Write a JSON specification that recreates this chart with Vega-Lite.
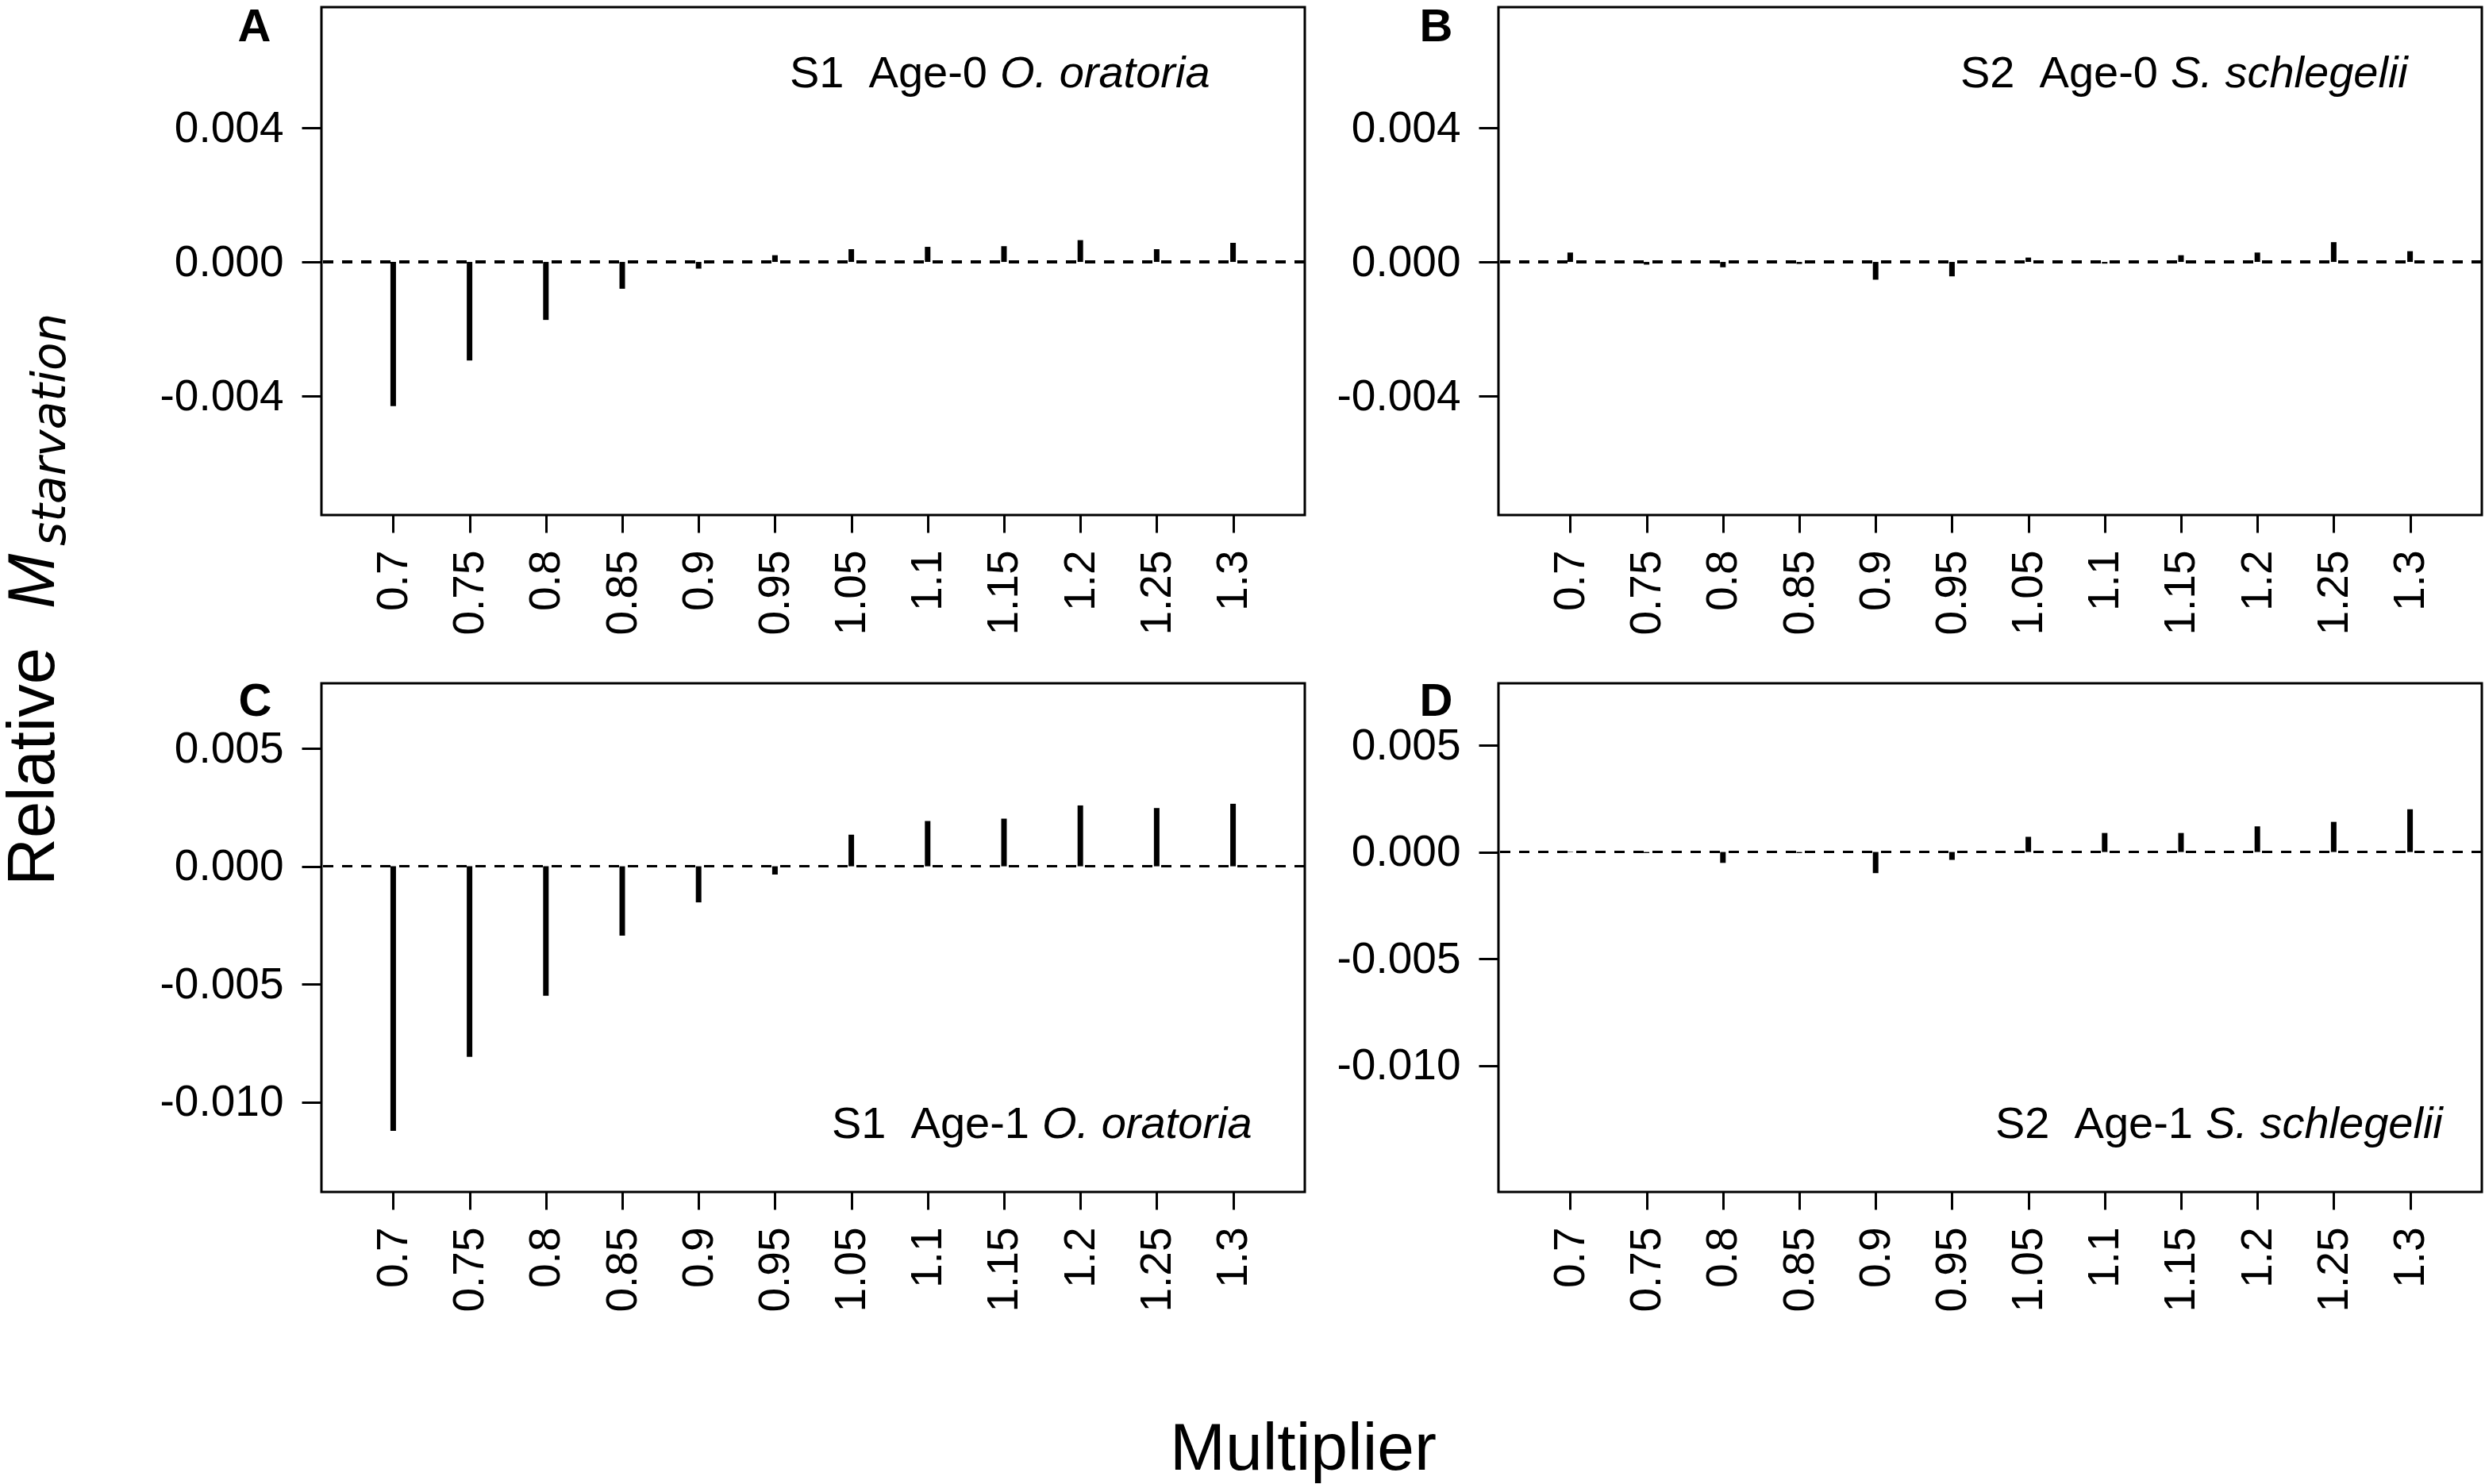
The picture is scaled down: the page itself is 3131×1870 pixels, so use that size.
{
  "$schema": "https://vega.github.io/schema/vega-lite/v6.json",
  "padding": {"left": 0, "top": 4, "right": 0, "bottom": 0},
  "background": "white",
  "datasets": {
    "A": [
      {"m": "0.7", "v": -0.0043}, {"m": "0.75", "v": -0.00294}, {"m": "0.8", "v": -0.00173},
      {"m": "0.85", "v": -0.0008}, {"m": "0.9", "v": -0.0002}, {"m": "0.95", "v": 0.0002},
      {"m": "1.05", "v": 0.00038}, {"m": "1.1", "v": 0.00045}, {"m": "1.15", "v": 0.00047},
      {"m": "1.2", "v": 0.00065}, {"m": "1.25", "v": 0.00038}, {"m": "1.3", "v": 0.00057}
    ],
    "B": [
      {"m": "0.7", "v": 0.00028}, {"m": "0.75", "v": -0.00008}, {"m": "0.8", "v": -0.00016},
      {"m": "0.85", "v": -0.00006}, {"m": "0.9", "v": -0.00053}, {"m": "0.95", "v": -0.00043},
      {"m": "1.05", "v": 0.00013}, {"m": "1.1", "v": -0.00005}, {"m": "1.15", "v": 0.0002},
      {"m": "1.2", "v": 0.00028}, {"m": "1.25", "v": 0.00059}, {"m": "1.3", "v": 0.00032}
    ],
    "C": [
      {"m": "0.7", "v": -0.01122}, {"m": "0.75", "v": -0.00808}, {"m": "0.8", "v": -0.00549},
      {"m": "0.85", "v": -0.00294}, {"m": "0.9", "v": -0.00153}, {"m": "0.95", "v": -0.00035},
      {"m": "1.05", "v": 0.00134}, {"m": "1.1", "v": 0.00192}, {"m": "1.15", "v": 0.00202},
      {"m": "1.2", "v": 0.00258}, {"m": "1.25", "v": 0.00247}, {"m": "1.3", "v": 0.00265}
    ],
    "D": [
      {"m": "0.7", "v": 0.00002}, {"m": "0.75", "v": -0.00005}, {"m": "0.8", "v": -0.00051},
      {"m": "0.85", "v": -0.00005}, {"m": "0.9", "v": -0.00099}, {"m": "0.95", "v": -0.00037},
      {"m": "1.05", "v": 0.00071}, {"m": "1.1", "v": 0.00089}, {"m": "1.15", "v": 0.00089},
      {"m": "1.2", "v": 0.0012}, {"m": "1.25", "v": 0.00141}, {"m": "1.3", "v": 0.002}
    ]
  },
  "title": {
    "text": "Multiplier",
    "orient": "bottom",
    "anchor": "middle",
    "font": "Liberation Sans",
    "fontSize": 84,
    "fontWeight": "normal",
    "color": "black",
    "baseline": "alphabetic",
    "offset": 197,
    "dx": 77
  },
  "bounds": "flush",
  "spacing": 305,
  "hconcat": [
    {
      "width": 100,
      "height": 1493,
      "view": {"stroke": null},
      "layer": [
        {
          "data": {"values": [{"t": "Relative"}]},
          "mark": {"type": "text", "angle": 270, "align": "left", "baseline": "alphabetic", "fontSize": 83, "dx": -360.5, "dy": 18},
          "encoding": {"text": {"field": "t"}}
        },
        {
          "data": {"values": [{"t": "M"}]},
          "mark": {"type": "text", "angle": 270, "align": "left", "baseline": "alphabetic", "fontSize": 83, "fontStyle": "italic", "dx": -11.5, "dy": 18},
          "encoding": {"text": {"field": "t"}}
        },
        {
          "data": {"values": [{"t": "starvation"}]},
          "mark": {"type": "text", "angle": 270, "align": "left", "baseline": "alphabetic", "font": "DejaVu Sans", "fontSize": 58, "fontStyle": "italic", "dx": 67.5, "dy": 32},
          "encoding": {"text": {"field": "t"}}
        }
      ]
    },
    {
      "columns": 2,
      "bounds": "flush",
      "spacing": {"row": 212, "column": 244},
      "concat": [
        {
          "width": 1239,
          "height": 640,
          "data": {"name": "A"},
          "layer": [
            {
              "mark": {"type": "rule", "strokeWidth": 7, "color": "black"},
              "encoding": {
                "x": {"field": "m", "type": "ordinal", "sort": null, "scale": {"type": "point", "padding": 0.94}, "axis": {"title": null}},
                "y": {"field": "v", "type": "quantitative", "scale": {"domain": [-0.00755, 0.0076], "nice": false, "zero": false},
                      "axis": {"title": null, "values": [-0.004, 0, 0.004], "format": ".3f", "labelExpr": "replace(datum.label, '\u2212', '-')"}},
                "y2": {"datum": 0}
              }
            },
            {
              "mark": {"type": "rule", "strokeWidth": 3, "strokeDash": [13, 11], "color": "black"},
              "encoding": {"y": {"datum": 0}}
            },
            {
              "data": {"values": [{"t": "S1\u00a0\u00a0Age-0"}]},
              "mark": {"type": "text", "align": "right", "baseline": "alphabetic", "fontSize": 56, "dx": -21},
              "encoding": {"x": {"datum": "1.15"}, "y": {"datum": 0.0052}, "text": {"field": "t"}}
            },
            {
              "data": {"values": [{"t": "O. oratoria"}]},
              "mark": {"type": "text", "align": "left", "baseline": "alphabetic", "fontSize": 56, "fontStyle": "italic", "dx": -5},
              "encoding": {"x": {"datum": "1.15"}, "y": {"datum": 0.0052}, "text": {"field": "t"}}
            },
            {
              "data": {"values": [{"t": "A"}]},
              "mark": {"type": "text", "align": "left", "baseline": "alphabetic", "fontSize": 58, "fontWeight": "bold", "dx": -196, "dy": 43},
              "encoding": {"x": {"datum": "0.7"}, "y": {"datum": 0.0076}, "text": {"field": "t"}}
            }
          ]
        },
        {
          "width": 1239,
          "height": 640,
          "data": {"name": "B"},
          "layer": [
            {
              "mark": {"type": "rule", "strokeWidth": 7, "color": "black"},
              "encoding": {
                "x": {"field": "m", "type": "ordinal", "sort": null, "scale": {"type": "point", "padding": 0.94}, "axis": {"title": null}},
                "y": {"field": "v", "type": "quantitative", "scale": {"domain": [-0.00755, 0.0076], "nice": false, "zero": false},
                      "axis": {"title": null, "values": [-0.004, 0, 0.004], "format": ".3f", "labelExpr": "replace(datum.label, '\u2212', '-')"}},
                "y2": {"datum": 0}
              }
            },
            {
              "mark": {"type": "rule", "strokeWidth": 3, "strokeDash": [13, 11], "color": "black"},
              "encoding": {"y": {"datum": 0}}
            },
            {
              "data": {"values": [{"t": "S2\u00a0\u00a0Age-0"}]},
              "mark": {"type": "text", "align": "right", "baseline": "alphabetic", "fontSize": 56, "dx": -29},
              "encoding": {"x": {"datum": "1.15"}, "y": {"datum": 0.0052}, "text": {"field": "t"}}
            },
            {
              "data": {"values": [{"t": "S. schlegelii"}]},
              "mark": {"type": "text", "align": "left", "baseline": "alphabetic", "fontSize": 56, "fontStyle": "italic", "dx": -13},
              "encoding": {"x": {"datum": "1.15"}, "y": {"datum": 0.0052}, "text": {"field": "t"}}
            },
            {
              "data": {"values": [{"t": "B"}]},
              "mark": {"type": "text", "align": "left", "baseline": "alphabetic", "fontSize": 58, "fontWeight": "bold", "dx": -190, "dy": 43},
              "encoding": {"x": {"datum": "0.7"}, "y": {"datum": 0.0076}, "text": {"field": "t"}}
            }
          ]
        },
        {
          "width": 1239,
          "height": 641,
          "data": {"name": "C"},
          "layer": [
            {
              "mark": {"type": "rule", "strokeWidth": 7, "color": "black"},
              "encoding": {
                "x": {"field": "m", "type": "ordinal", "sort": null, "scale": {"type": "point", "padding": 0.94}, "axis": {"title": null}},
                "y": {"field": "v", "type": "quantitative", "scale": {"domain": [-0.01381, 0.00776], "nice": false, "zero": false},
                      "axis": {"title": null, "values": [-0.01, -0.005, 0, 0.005], "format": ".3f", "labelExpr": "replace(datum.label, '\u2212', '-')"}},
                "y2": {"datum": 0}
              }
            },
            {
              "mark": {"type": "rule", "strokeWidth": 3, "strokeDash": [13, 11], "color": "black"},
              "encoding": {"y": {"datum": 0}}
            },
            {
              "data": {"values": [{"t": "S1\u00a0\u00a0Age-1"}]},
              "mark": {"type": "text", "align": "right", "baseline": "alphabetic", "fontSize": 56, "dx": 32},
              "encoding": {"x": {"datum": "1.15"}, "y": {"datum": -0.01151}, "text": {"field": "t"}}
            },
            {
              "data": {"values": [{"t": "O. oratoria"}]},
              "mark": {"type": "text", "align": "left", "baseline": "alphabetic", "fontSize": 56, "fontStyle": "italic", "dx": 48},
              "encoding": {"x": {"datum": "1.15"}, "y": {"datum": -0.01151}, "text": {"field": "t"}}
            },
            {
              "data": {"values": [{"t": "C"}]},
              "mark": {"type": "text", "align": "left", "baseline": "alphabetic", "fontSize": 58, "fontWeight": "bold", "dx": -195, "dy": 41},
              "encoding": {"x": {"datum": "0.7"}, "y": {"datum": 0.00776}, "text": {"field": "t"}}
            }
          ]
        },
        {
          "width": 1239,
          "height": 641,
          "data": {"name": "D"},
          "layer": [
            {
              "mark": {"type": "rule", "strokeWidth": 7, "color": "black"},
              "encoding": {
                "x": {"field": "m", "type": "ordinal", "sort": null, "scale": {"type": "point", "padding": 0.94}, "axis": {"title": null}},
                "y": {"field": "v", "type": "quantitative", "scale": {"domain": [-0.01592, 0.0079], "nice": false, "zero": false},
                      "axis": {"title": null, "values": [-0.01, -0.005, 0, 0.005], "format": ".3f", "labelExpr": "replace(datum.label, '\u2212', '-')"}},
                "y2": {"datum": 0}
              }
            },
            {
              "mark": {"type": "rule", "strokeWidth": 3, "strokeDash": [13, 11], "color": "black"},
              "encoding": {"y": {"datum": 0}}
            },
            {
              "data": {"values": [{"t": "S2\u00a0\u00a0Age-1"}]},
              "mark": {"type": "text", "align": "right", "baseline": "alphabetic", "fontSize": 56, "dx": 15},
              "encoding": {"x": {"datum": "1.15"}, "y": {"datum": -0.013375}, "text": {"field": "t"}}
            },
            {
              "data": {"values": [{"t": "S. schlegelii"}]},
              "mark": {"type": "text", "align": "left", "baseline": "alphabetic", "fontSize": 56, "fontStyle": "italic", "dx": 31},
              "encoding": {"x": {"datum": "1.15"}, "y": {"datum": -0.013375}, "text": {"field": "t"}}
            },
            {
              "data": {"values": [{"t": "D"}]},
              "mark": {"type": "text", "align": "left", "baseline": "alphabetic", "fontSize": 58, "fontWeight": "bold", "dx": -190, "dy": 41},
              "encoding": {"x": {"datum": "0.7"}, "y": {"datum": 0.0079}, "text": {"field": "t"}}
            }
          ]
        }
      ]
    }
  ],
  "config": {
    "font": "Liberation Sans",
    "view": {"stroke": "black", "strokeWidth": 3},
    "text": {"font": "Liberation Sans", "color": "black"},
    "axis": {
      "labelFont": "Liberation Sans",
      "labelFontSize": 55,
      "labelColor": "black",
      "tickColor": "black",
      "tickWidth": 3,
      "grid": false,
      "domain": false,
      "labelOverlap": false
    },
    "axisX": {"labelAngle": 270, "tickSize": 22, "labelPadding": 22},
    "axisY": {"tickSize": 25, "labelPadding": 23}
  }
}
